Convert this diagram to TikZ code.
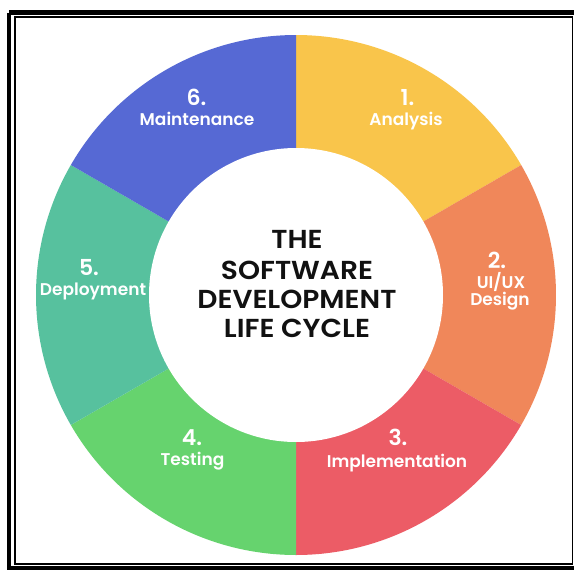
\documentclass[tikz,border=0pt]{standalone}
\usepackage{fontspec}
\setmainfont{Poppins}
\IfFontExistsTF{Poppins SemiBold}{\newfontfamily\labfont{Poppins SemiBold}}{\newfontfamily\labfont{Poppins}[UprightFont=*-Bold]}
\IfFontExistsTF{Poppins SemiBold}{\newfontfamily\titfont{Poppins SemiBold}[FakeStretch=1.08]}{\newfontfamily\titfont{Poppins}[FakeStretch=1.08]}
\definecolor{segyellow}{HTML}{F9C54B}
\definecolor{segorange}{HTML}{F0875A}
\definecolor{segred}{HTML}{EC5C66}
\definecolor{seggreen}{HTML}{66D36E}
\definecolor{segteal}{HTML}{57C19E}
\definecolor{segblue}{HTML}{5669D4}
\definecolor{titleblack}{HTML}{111111}
\tikzset{
  x=1pt, y=1pt,
  numtext/.style={text=white, font=\labfont\fontsize{22}{24}\selectfont, anchor=base, inner sep=0pt},
  labtext/.style={text=white, font=\labfont\fontsize{17}{19}\selectfont, anchor=base, inner sep=0pt},
  tittext/.style={text=titleblack, font=\titfont\fontsize{26}{29}\selectfont, anchor=base, inner sep=0pt},
}
\begin{document}
\begin{tikzpicture}
\useasboundingbox (0,0) rectangle (574,-571);
\begin{scope}
\clip (0,0) rectangle (574,-571);
\fill[white] (0,0) rectangle (574,-571);
% frame
\draw[line width=4.5pt] (9,-12.5) -- (580,-12.5);
\draw[line width=4.5pt] (9,-12.5) -- (9,-568) -- (580,-568);
\draw[line width=1.6pt] (14.8,-17) rectangle (572.5,-563.7);
% ring
\coordinate (C) at (296,-295);
\fill[segyellow] (C) -- ++(90:260) arc[start angle=90, end angle=30, radius=260] -- cycle;
\fill[segorange] (C) -- ++(30:260) arc[start angle=30, end angle=-30, radius=260] -- cycle;
\fill[segred] (C) -- ++(-30:260) arc[start angle=-30, end angle=-90, radius=260] -- cycle;
\fill[seggreen] (C) -- ++(-90:260) arc[start angle=-90, end angle=-150, radius=260] -- cycle;
\fill[segteal] (C) -- ++(-150:260) arc[start angle=-150, end angle=-210, radius=260] -- cycle;
\fill[segblue] (C) -- ++(150:260) arc[start angle=150, end angle=90, radius=260] -- cycle;
\fill[white] (C) circle[radius=147];
\end{scope}
% labels
\node[numtext] (n1) at (407.5,-105) {1.};
\node[labtext] (l1) at (406,-125) {Analysis};
\node[numtext] (n2) at (497,-268) {2.};
\node[labtext] (l2a) at (501,-288) {UI/UX};
\node[labtext] (l2b) at (500,-305) {Design};
\node[numtext] (n3) at (398,-445) {3.};
\node[labtext] (l3) at (397,-467) {Implementation};
\node[numtext] (n4) at (192,-445) {4.};
\node[labtext] (l4) at (192.5,-465) {Testing};
\node[numtext] (n5) at (89,-275) {5.};
\node[labtext] (l5) at (93,-295) {Deployment};
\node[numtext] (n6) at (196.5,-105) {6.};
\node[labtext] (l6) at (197,-125) {Maintenance};
% title
\node[tittext] (t1) at (297,-248) {THE};
\node[tittext] (t2) at (297,-279) {SOFTWARE};
\node[tittext] (t3) at (297,-308) {DEVELOPMENT};
\node[tittext] (t4) at (297,-337) {LIFE CYCLE};
\end{tikzpicture}
\end{document}
